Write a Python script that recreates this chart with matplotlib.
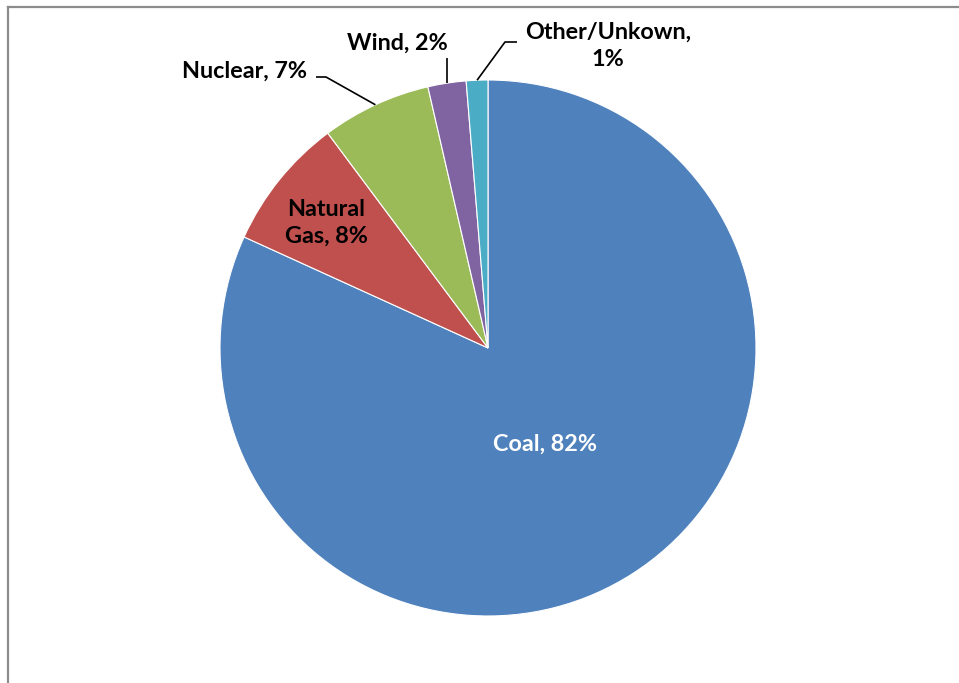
import numpy as np
import matplotlib
matplotlib.use("Agg")
import matplotlib.pyplot as plt
from matplotlib.lines import Line2D

# Electricity generation share by source
sources = ["Coal", "Natural Gas", "Nuclear", "Wind", "Other/Unkown"]
shares = [81.8, 8.0, 6.6, 2.3, 1.3]
colors = ["#4F81BD", "#C0504D", "#9BBB59", "#8064A2", "#4BACC6"]

W, H, DPI = 959, 683, 100
plt.rcParams["font.family"] = ["Lato", "DejaVu Sans"]

fig = plt.figure(figsize=(W / DPI, H / DPI), dpi=DPI)
ax = fig.add_axes([0, 0, 1, 1])
ax.axis("off")

# pie geometry in pixels
cx, cy, R = 488, 348, 268

wedges, _ = ax.pie(shares, colors=colors, startangle=90, counterclock=False,
                   radius=1.0, wedgeprops=dict(edgecolor="white", linewidth=0.8))
ax.set_aspect("auto")
ax.set_xlim(-cx / R, (W - cx) / R)
ax.set_ylim(-(H - cy) / R, cy / R)


def px(x, y):
    """pixel position (from top-left) -> data coords"""
    return (x - cx) / R, (cy - y) / R


def mid_point(i, r=1.0):
    w = wedges[i]
    a = np.deg2rad((w.theta1 + w.theta2) / 2)
    return r * np.cos(a), r * np.sin(a)


labels = [f"{s}, {round(v):.0f}%" for s, v in zip(sources, shares)]
fs = 16.8
bold = dict(fontsize=fs, fontweight="bold")

# Coal (inside, white)
ax.text(*px(545, 444), labels[0], color="white", ha="center", va="center", **bold)
# Natural Gas (inside, two lines)
ax.text(*px(326, 223), "Natural\nGas, 8%", color="black", ha="center", va="center",
        linespacing=1.3, **bold)

lk = dict(color="black", lw=1.2, solid_capstyle="butt")

# Nuclear with leader
ax.text(*px(245, 71), labels[2], ha="center", va="center", **bold)
ex, ey = mid_point(2)
ax.add_line(Line2D([px(316, 0)[0], px(326, 0)[0], ex], [px(0, 77)[1], px(0, 77)[1], ey], **lk))

# Wind with leader
ax.text(*px(397, 43), labels[3], ha="center", va="center", **bold)
ex, ey = mid_point(3)
ax.add_line(Line2D([ex, ex], [px(0, 58)[1], ey], **lk))

# Other/Unknown with leader
ax.text(*px(608, 46), "Other/Unkown,\n1%", ha="center", va="center",
        linespacing=1.35, **bold)
ex, ey = mid_point(4)
ax.add_line(Line2D([px(517, 0)[0], px(505, 0)[0], ex], [px(0, 42)[1], px(0, 42)[1], ey], **lk))

# chart frame (top and left edges visible)
fc = "#8C8C8C"
fig.add_artist(Line2D([8 / W, 1], [1 - 7 / H, 1 - 7 / H], transform=fig.transFigure, color=fc, lw=1.6))
fig.add_artist(Line2D([8 / W, 8 / W], [0, 1 - 7 / H], transform=fig.transFigure, color=fc, lw=1.6))

fig.savefig("out.png", dpi=DPI)
